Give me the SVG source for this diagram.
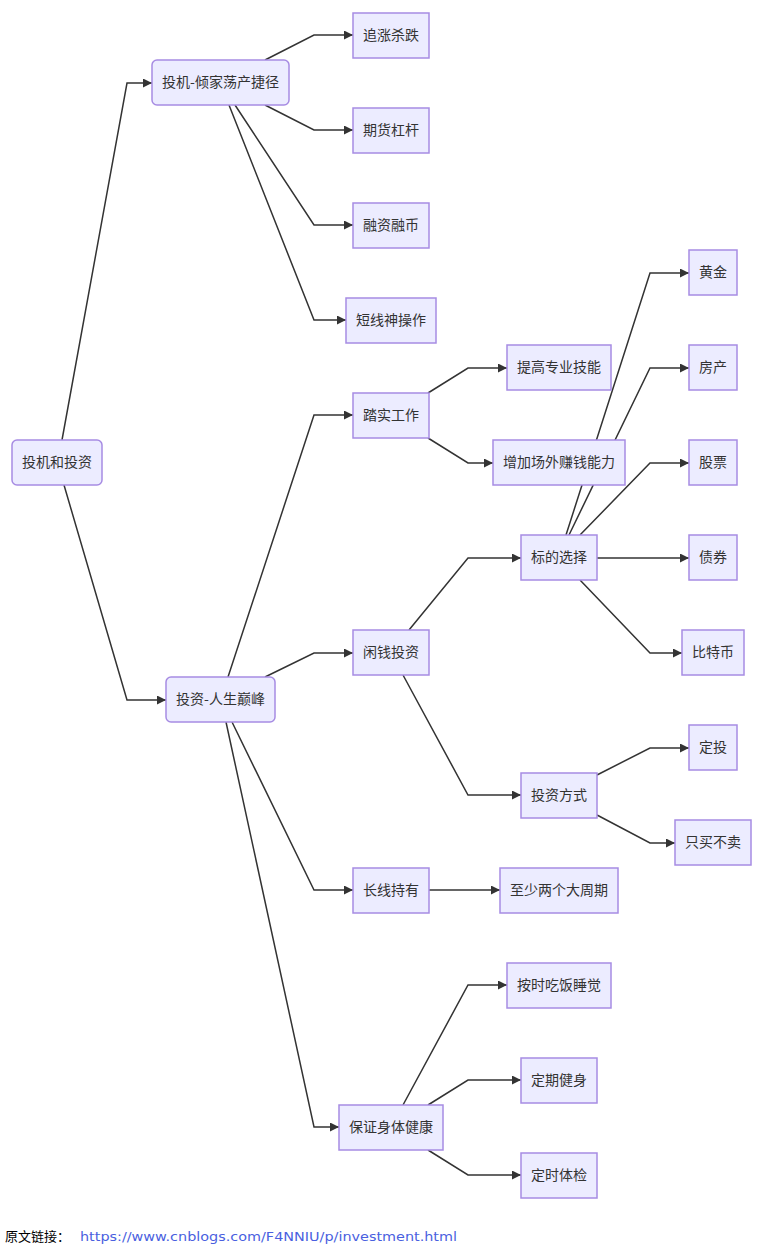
<svg xmlns="http://www.w3.org/2000/svg" width="766" height="1260" viewBox="0 0 766 1260">
<defs>
<marker id="arr" viewBox="0 0 10 10" refX="10" refY="5" markerUnits="userSpaceOnUse" markerWidth="10" markerHeight="9" orient="auto">
<path d="M0,0 L10,5 L0,10 z" fill="#333"/>
</marker>
<style>
.n rect{fill:#ECECFF;stroke:#a78ce3;stroke-width:1.5}
.n text{font-family:"Noto Sans CJK SC","Liberation Sans",sans-serif;font-size:14px;fill:#333;text-anchor:middle;dominant-baseline:central;transform:translateY(-1.5px)}
#edges path{fill:none;stroke:#333;stroke-width:1.5;marker-end:url(#arr)}
</style>
</defs>
<rect width="766" height="1260" fill="#fff"/>
<g id="edges">
<path d="M62,440 L127,83 L152,83"/>
<path d="M64,485 L127,700 L166,700"/>
<path d="M265,60 L314,35 L353,35"/>
<path d="M265,105 L314,130 L353,130"/>
<path d="M235,105 L314,225 L353,225"/>
<path d="M229,105 L314,320 L346,320"/>
<path d="M228,677 L314,415 L353,415"/>
<path d="M265,677 L314,653 L353,653"/>
<path d="M232,722 L314,890 L353,890"/>
<path d="M226,722 L314,1127 L339,1127"/>
<path d="M428,393 L468,368 L507,368"/>
<path d="M428,438 L468,463 L493,463"/>
<path d="M409,630 L468,558 L521,558"/>
<path d="M403,675 L468,795 L521,795"/>
<path d="M429,890 L500,890"/>
<path d="M403,1105 L468,985 L507,985"/>
<path d="M428,1105 L468,1080 L521,1080"/>
<path d="M428,1150 L468,1175 L521,1175"/>
<path d="M566,535 L650,273 L689,273"/>
<path d="M569,535 L650,368 L689,368"/>
<path d="M580,535 L650,463 L689,463"/>
<path d="M597,558 L689,558"/>
<path d="M580,580 L650,653 L682,653"/>
<path d="M597,775 L650,748 L689,748"/>
<path d="M597,815 L650,843 L675,843"/>
</g>
<g id="root" class="n"><rect x="12" y="440" width="90" height="45" rx="5"/><text x="57" y="462.5">投机和投资</text></g>
<g id="spec" class="n"><rect x="152" y="60" width="137" height="45" rx="5"/><text x="220.5" y="82.5">投机-倾家荡产捷径</text></g>
<g id="inv" class="n"><rect x="166" y="677" width="109" height="45" rx="5"/><text x="220.5" y="699.5">投资-人生巅峰</text></g>
<g id="s1" class="n"><rect x="353" y="13" width="76" height="45"/><text x="391" y="35.5">追涨杀跌</text></g>
<g id="s2" class="n"><rect x="353" y="108" width="76" height="45"/><text x="391" y="130.5">期货杠杆</text></g>
<g id="s3" class="n"><rect x="353" y="203" width="76" height="45"/><text x="391" y="225.5">融资融币</text></g>
<g id="s4" class="n"><rect x="346" y="298" width="90" height="45"/><text x="391" y="320.5">短线神操作</text></g>
<g id="i1" class="n"><rect x="353" y="393" width="76" height="45"/><text x="391" y="415.5">踏实工作</text></g>
<g id="i2" class="n"><rect x="353" y="630" width="76" height="45"/><text x="391" y="652.5">闲钱投资</text></g>
<g id="i3" class="n"><rect x="353" y="868" width="76" height="45"/><text x="391" y="890.5">长线持有</text></g>
<g id="i4" class="n"><rect x="339" y="1105" width="104" height="45"/><text x="391" y="1127.5">保证身体健康</text></g>
<g id="w1" class="n"><rect x="507" y="345" width="104" height="45"/><text x="559" y="367.5">提高专业技能</text></g>
<g id="w2" class="n"><rect x="493" y="440" width="132" height="45"/><text x="559" y="462.5">增加场外赚钱能力</text></g>
<g id="m1" class="n"><rect x="521" y="535" width="76" height="45"/><text x="559" y="557.5">标的选择</text></g>
<g id="m2" class="n"><rect x="521" y="773" width="76" height="45"/><text x="559" y="795.5">投资方式</text></g>
<g id="l1" class="n"><rect x="500" y="868" width="118" height="45"/><text x="559" y="890.5">至少两个大周期</text></g>
<g id="h1" class="n"><rect x="507" y="963" width="104" height="45"/><text x="559" y="985.5">按时吃饭睡觉</text></g>
<g id="h2" class="n"><rect x="521" y="1058" width="76" height="45"/><text x="559" y="1080.5">定期健身</text></g>
<g id="h3" class="n"><rect x="521" y="1153" width="76" height="45"/><text x="559" y="1175.5">定时体检</text></g>
<g id="t1" class="n"><rect x="689" y="250" width="48" height="45"/><text x="713" y="272.5">黄金</text></g>
<g id="t2" class="n"><rect x="689" y="345" width="48" height="45"/><text x="713" y="367.5">房产</text></g>
<g id="t3" class="n"><rect x="689" y="440" width="48" height="45"/><text x="713" y="462.5">股票</text></g>
<g id="t4" class="n"><rect x="689" y="535" width="48" height="45"/><text x="713" y="557.5">债券</text></g>
<g id="t5" class="n"><rect x="682" y="630" width="62" height="45"/><text x="713" y="652.5">比特币</text></g>
<g id="f1" class="n"><rect x="689" y="725" width="48" height="45"/><text x="713" y="747.5">定投</text></g>
<g id="f2" class="n"><rect x="675" y="820" width="76" height="45"/><text x="713" y="842.5">只买不卖</text></g>
<g id="footer">
<text x="5" y="1241" font-family="Noto Sans CJK SC,Liberation Sans,sans-serif" font-size="13" fill="#000">原文链接：</text>
<text x="80" y="1241" font-family="DejaVu Sans,Liberation Sans,sans-serif" font-size="13" fill="#4a5fe0" textLength="377" lengthAdjust="spacingAndGlyphs">https://www.cnblogs.com/F4NNIU/p/investment.html</text>
</g>
</svg>
